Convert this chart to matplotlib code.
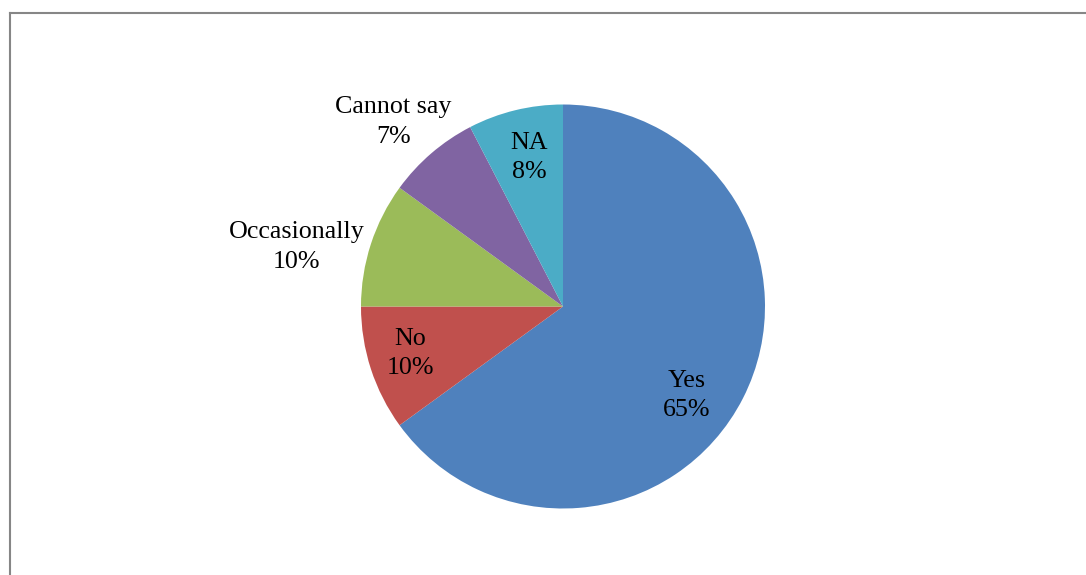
import matplotlib
matplotlib.use('Agg')
import matplotlib.pyplot as plt
import numpy as np

labels = ['Yes', 'No', 'Occasionally', 'Cannot say', 'NA']
values = [65, 10, 10, 7.4, 7.6]
colors = ['#4F81BD', '#C0504D', '#9BBB59', '#8064A2', '#4BACC6']

# label placement (radius in pie units, angle offset in degrees)
label_dist = [0.755, 0.79, 1.35, 1.24, 0.755]
label_shift = [-8.7, -1, 5.4, 1.9, -1]

plt.rcParams['font.family'] = ['Liberation Serif', 'DejaVu Serif']

fig = plt.figure(figsize=(10.86, 5.75), dpi=100)
W, H = 1086, 575

# chart frame (only top and left edges are visible)
fig.add_artist(plt.Line2D([10/W, 10/W], [0, 1 - 13/H], color='#868686', lw=1.5))
fig.add_artist(plt.Line2D([10/W, 1], [1 - 13/H, 1 - 13/H], color='#868686', lw=1.5))

cx, cy, r = 563, 306.5, 202
ax = fig.add_axes([(cx - r)/W, (H - cy - r)/H, 2*r/W, 2*r/H])
wedges, _ = ax.pie(values, colors=colors, startangle=90, counterclock=False,
                   radius=1, wedgeprops=dict(linewidth=0))
ax.set_xlim(-1, 1)
ax.set_ylim(-1, 1)
ax.axis('off')

total = sum(values)
for i, w in enumerate(wedges):
    ang = np.deg2rad((w.theta1 + w.theta2) / 2 + label_shift[i])
    x = label_dist[i] * np.cos(ang)
    y = label_dist[i] * np.sin(ang)
    pct = round(values[i] / total * 100)
    ax.text(x, y, f'{labels[i]}\n{pct}%', ha='center', va='center',
            fontsize=18.7, linespacing=1.42, color='black')

fig.savefig('out.png', dpi=100)
